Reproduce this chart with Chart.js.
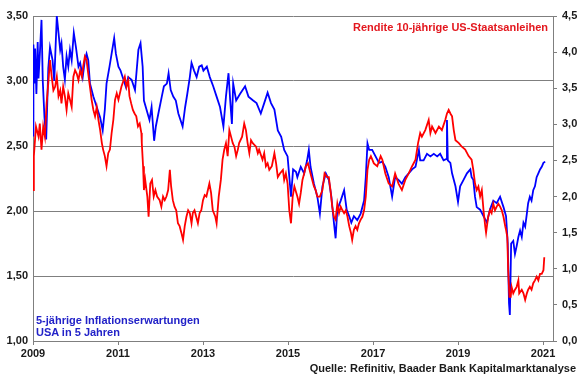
<!DOCTYPE html>
<html>
<head>
<meta charset="utf-8">
<script src="https://cdn.jsdelivr.net/npm/chart.js@4/dist/chart.umd.min.js"></script>
<style>
  body { margin: 0; background: #fff; }
  #wrap { position: relative; width: 580px; height: 375px; font-family: "Liberation Sans", Arial, sans-serif; font-weight: bold; }
  #chart { position: absolute; left: 0; top: 0; }
  .note { position: absolute; font-size: 11px; line-height: 12px; white-space: nowrap; }
  #redNote { right: 32px; top: 21px; color: #e3171e; }
  #blueNote { left: 36px; top: 314px; color: #2222c8; }
  #source { right: 4px; top: 362px; color: #1a1a1a; }
</style>
</head>
<body>
<div id="wrap">
  <canvas id="chart" width="580" height="375"></canvas>
  <div class="note" id="redNote">Rendite 10-jährige US-Staatsanleihen</div>
  <div class="note" id="blueNote">5-jährige Inflationserwartungen<br>USA in 5 Jahren</div>
  <div class="note" id="source">Quelle: Refinitiv, Baader Bank Kapitalmarktanalyse</div>
</div>
<script>
// 5y5y inflation expectations (left axis, %)
const inflYears = [
  2009.00, 2009.01, 2009.03, 2009.05, 2009.08, 2009.11, 2009.13, 2009.16, 2009.20, 2009.23,
  2009.27, 2009.31, 2009.36, 2009.40, 2009.46, 2009.50, 2009.56, 2009.60, 2009.64, 2009.67,
  2009.71, 2009.75, 2009.79, 2009.83, 2009.87, 2009.91, 2009.96, 2010.01, 2010.07, 2010.11,
  2010.17, 2010.22, 2010.26, 2010.30, 2010.34, 2010.42, 2010.50, 2010.58, 2010.64, 2010.69,
  2010.73, 2010.80, 2010.85, 2010.91, 2010.95, 2011.01, 2011.06, 2011.13, 2011.19, 2011.24,
  2011.32, 2011.40, 2011.48, 2011.53, 2011.58, 2011.61, 2011.67, 2011.74, 2011.79, 2011.85,
  2011.89, 2011.95, 2012.03, 2012.08, 2012.15, 2012.19, 2012.24, 2012.30, 2012.36, 2012.42,
  2012.47, 2012.52, 2012.58, 2012.63, 2012.69, 2012.73, 2012.79, 2012.85, 2012.91, 2012.97,
  2013.01, 2013.09, 2013.16, 2013.24, 2013.32, 2013.40, 2013.48, 2013.54, 2013.60, 2013.64,
  2013.68, 2013.71, 2013.78, 2013.87, 2013.99, 2014.07, 2014.18, 2014.26, 2014.36, 2014.44,
  2014.52, 2014.60, 2014.68, 2014.76, 2014.84, 2014.91, 2014.99, 2015.07, 2015.12, 2015.19,
  2015.22, 2015.30, 2015.38, 2015.45, 2015.49, 2015.53, 2015.61, 2015.69, 2015.75, 2015.81,
  2015.89, 2015.96, 2016.02, 2016.08, 2016.12, 2016.16, 2016.24, 2016.32, 2016.38, 2016.44,
  2016.49, 2016.55, 2016.63, 2016.71, 2016.79, 2016.83, 2016.87, 2016.91, 2016.98, 2017.06,
  2017.14, 2017.22, 2017.29, 2017.37, 2017.45, 2017.52, 2017.60, 2017.68, 2017.76, 2017.84,
  2017.92, 2018.00, 2018.08, 2018.11, 2018.19, 2018.27, 2018.35, 2018.43, 2018.51, 2018.58,
  2018.66, 2018.73, 2018.74, 2018.76, 2018.82, 2018.86, 2018.94, 2019.00, 2019.05, 2019.13,
  2019.21, 2019.29, 2019.32, 2019.36, 2019.40, 2019.44, 2019.52, 2019.60, 2019.68, 2019.75,
  2019.83, 2019.91, 2019.99, 2020.07, 2020.13, 2020.17, 2020.20, 2020.22, 2020.25, 2020.30,
  2020.34, 2020.38, 2020.42, 2020.46, 2020.50, 2020.54, 2020.58, 2020.62, 2020.65, 2020.69,
  2020.73, 2020.77, 2020.81, 2020.85, 2020.89, 2020.93, 2020.97, 2021.01, 2021.05
];
const inflValues = [
  2.58, 3.28, 2.98, 3.25, 2.90, 3.30, 3.02, 3.20, 3.47, 3.00,
  2.72, 2.55, 3.10, 3.26, 3.16, 3.00, 3.50, 3.37, 3.24, 3.29,
  3.11, 3.01, 3.19, 3.11, 3.24, 3.16, 3.37, 3.26, 3.11, 3.14,
  3.03, 3.16, 3.21, 3.16, 2.98, 2.88, 2.80, 2.72, 2.62, 2.78,
  2.98, 3.11, 3.21, 3.33, 3.21, 3.11, 3.08, 3.01, 2.95, 3.03,
  3.01, 2.93, 3.24, 3.29, 3.11, 2.85, 2.78, 2.70, 2.80, 2.54,
  2.65, 2.75, 2.88, 2.96, 2.98, 3.06, 2.93, 2.88, 2.85, 2.75,
  2.70, 2.65, 2.80, 2.90, 3.03, 3.14, 3.08, 3.03, 3.11, 3.12,
  3.08, 3.11, 3.03, 2.96, 2.88, 2.80, 2.65, 2.88, 3.06, 2.85,
  2.67, 2.98, 2.85, 2.90, 2.96, 2.88, 2.85, 2.83, 2.75, 2.83,
  2.91, 2.83, 2.78, 2.62, 2.57, 2.47, 2.42, 2.11, 2.32, 2.30,
  2.26, 2.34, 2.29, 2.39, 2.47, 2.34, 2.21, 2.11, 1.98, 2.19,
  2.29, 2.24, 2.11, 1.91, 1.79, 2.01, 2.08, 2.16, 2.01, 1.96,
  1.91, 1.96, 1.93, 1.98, 2.08, 2.26, 2.52, 2.47, 2.47, 2.42,
  2.37, 2.38, 2.34, 2.26, 2.11, 2.26, 2.24, 2.21, 2.26, 2.29,
  2.32, 2.34, 2.47, 2.39, 2.39, 2.44, 2.42, 2.44, 2.42, 2.44,
  2.39, 2.40, 2.70, 2.39, 2.37, 2.29, 2.19, 2.07, 2.19, 2.24,
  2.29, 2.32, 2.26, 2.24, 2.11, 2.03, 2.01, 1.96, 1.91, 2.01,
  2.08, 2.06, 2.11, 2.03, 1.96, 1.75, 1.29, 1.20, 1.75, 1.77,
  1.67, 1.73, 1.80, 1.85, 1.80, 1.91, 1.88, 1.98, 2.06, 2.11,
  2.08, 2.16, 2.19, 2.26, 2.29, 2.32, 2.34, 2.37, 2.38
];

// 10y US Treasury yield (right axis, %)
const yieldYears = [
  2009.00, 2009.02, 2009.07, 2009.13, 2009.16, 2009.20, 2009.24, 2009.28, 2009.32, 2009.36,
  2009.40, 2009.44, 2009.48, 2009.52, 2009.56, 2009.60, 2009.64, 2009.67, 2009.71, 2009.75,
  2009.79, 2009.83, 2009.87, 2009.91, 2009.95, 2009.99, 2010.03, 2010.07, 2010.11, 2010.15,
  2010.18, 2010.22, 2010.26, 2010.30, 2010.34, 2010.38, 2010.42, 2010.46, 2010.50, 2010.54,
  2010.58, 2010.62, 2010.65, 2010.69, 2010.73, 2010.77, 2010.81, 2010.85, 2010.89, 2010.93,
  2010.97, 2011.01, 2011.08, 2011.16, 2011.20, 2011.24, 2011.27, 2011.31, 2011.35, 2011.39,
  2011.43, 2011.47, 2011.51, 2011.55, 2011.56, 2011.59, 2011.61, 2011.64, 2011.69, 2011.72,
  2011.76, 2011.80, 2011.84, 2011.88, 2011.92, 2011.98, 2012.02, 2012.06, 2012.10, 2012.14,
  2012.18, 2012.22, 2012.25, 2012.29, 2012.33, 2012.37, 2012.41, 2012.45, 2012.49, 2012.53,
  2012.57, 2012.61, 2012.65, 2012.69, 2012.73, 2012.76, 2012.80, 2012.84, 2012.88, 2012.92,
  2012.96, 2013.00, 2013.04, 2013.08, 2013.15, 2013.19, 2013.23, 2013.29, 2013.32, 2013.37,
  2013.42, 2013.46, 2013.50, 2013.54, 2013.58, 2013.62, 2013.66, 2013.70, 2013.74, 2013.78,
  2013.82, 2013.85, 2013.92, 2013.97, 2014.01, 2014.05, 2014.09, 2014.13, 2014.17, 2014.25,
  2014.29, 2014.32, 2014.40, 2014.44, 2014.48, 2014.52, 2014.56, 2014.62, 2014.68, 2014.72,
  2014.76, 2014.81, 2014.88, 2014.91, 2014.95, 2014.99, 2015.03, 2015.07, 2015.11, 2015.15,
  2015.22, 2015.26, 2015.30, 2015.34, 2015.38, 2015.42, 2015.47, 2015.53, 2015.57, 2015.61,
  2015.65, 2015.69, 2015.75, 2015.81, 2015.86, 2015.92, 2015.96, 2016.00, 2016.04, 2016.08,
  2016.12, 2016.16, 2016.20, 2016.24, 2016.28, 2016.32, 2016.36, 2016.40, 2016.44, 2016.48,
  2016.51, 2016.55, 2016.59, 2016.63, 2016.67, 2016.71, 2016.75, 2016.79, 2016.83, 2016.87,
  2016.91, 2016.95, 2017.02, 2017.10, 2017.18, 2017.22, 2017.29, 2017.37, 2017.45, 2017.52,
  2017.60, 2017.68, 2017.76, 2017.84, 2017.92, 2018.00, 2018.06, 2018.11, 2018.15, 2018.23,
  2018.31, 2018.35, 2018.39, 2018.47, 2018.55, 2018.62, 2018.70, 2018.74, 2018.78, 2018.82,
  2018.86, 2018.90, 2018.94, 2019.02, 2019.09, 2019.17, 2019.25, 2019.32, 2019.36, 2019.40,
  2019.44, 2019.48, 2019.52, 2019.56, 2019.60, 2019.64, 2019.66, 2019.71, 2019.75, 2019.79,
  2019.83, 2019.87, 2019.91, 2019.95, 2019.99, 2020.03, 2020.07, 2020.11, 2020.13, 2020.16,
  2020.18, 2020.21, 2020.24, 2020.26, 2020.30, 2020.34, 2020.38, 2020.42, 2020.44, 2020.50,
  2020.54, 2020.58, 2020.62, 2020.65, 2020.69, 2020.73, 2020.77, 2020.81, 2020.85, 2020.89,
  2020.93, 2020.97, 2021.01, 2021.03
];
const yieldValues = [
  2.09, 2.56, 2.97, 2.83, 3.01, 2.65, 2.97, 2.83, 3.29, 3.57,
  3.89, 3.66, 3.47, 3.52, 3.66, 3.39, 3.47, 3.29, 3.52, 3.39,
  3.20, 3.43, 3.34, 3.24, 3.66, 3.75, 3.70, 3.61, 3.75, 3.66,
  3.80, 3.94, 3.89, 3.70, 3.52, 3.34, 3.20, 3.11, 3.24, 3.06,
  2.92, 2.74, 2.65, 2.56, 2.42, 2.60, 2.65, 2.88, 3.06, 3.34,
  3.43, 3.34, 3.52, 3.66, 3.52, 3.61, 3.39, 3.29, 3.20, 3.15,
  3.11, 2.97, 3.01, 2.88, 2.74, 2.42, 2.09, 2.23, 2.00, 1.72,
  2.18, 2.23, 2.00, 2.09, 2.00, 1.95, 1.86, 2.00, 1.95, 2.00,
  2.09, 2.37, 2.14, 1.95, 1.86, 1.81, 1.63, 1.59, 1.50, 1.40,
  1.59, 1.72, 1.81, 1.77, 1.63, 1.77, 1.81, 1.72, 1.63, 1.77,
  1.81, 1.95, 2.02, 2.00, 2.18, 2.05, 1.81, 1.72, 1.63, 2.00,
  2.23, 2.51, 2.65, 2.74, 2.56, 2.92, 2.83, 2.74, 2.69, 2.56,
  2.65, 2.74, 2.83, 3.01, 2.92, 2.74, 2.60, 2.78, 2.74, 2.69,
  2.60, 2.65, 2.51, 2.60, 2.42, 2.46, 2.37, 2.42, 2.60, 2.46,
  2.27, 2.32, 2.37, 2.23, 2.32, 2.18, 1.81, 1.63, 2.00, 2.14,
  2.00, 1.90, 2.05, 2.23, 2.32, 2.42, 2.46, 2.32, 2.23, 2.14,
  2.09, 2.00, 2.00, 2.09, 2.32, 2.27, 2.27, 2.09, 1.86, 1.72,
  1.68, 1.90, 1.77, 1.86, 1.81, 1.77, 1.81, 1.72, 1.59, 1.50,
  1.40, 1.54, 1.59, 1.54, 1.63, 1.68, 1.72, 1.81, 2.00, 2.37,
  2.51, 2.56, 2.46, 2.42, 2.56, 2.51, 2.32, 2.18, 2.14, 2.32,
  2.18, 2.09, 2.23, 2.32, 2.42, 2.51, 2.74, 2.88, 2.83, 2.92,
  3.06, 2.88, 2.97, 2.88, 2.97, 2.92, 3.06, 3.15, 3.20, 3.15,
  3.11, 2.92, 2.78, 2.74, 2.69, 2.65, 2.56, 2.51, 2.37, 2.18,
  2.09, 2.14, 2.00, 2.09, 1.81, 1.59, 1.50, 1.72, 1.81, 1.77,
  1.90, 1.81, 1.86, 1.90, 1.86, 1.81, 1.72, 1.59, 1.54, 1.44,
  0.98, 0.61, 0.61, 0.75, 0.66, 0.71, 0.75, 0.84, 0.66, 0.71,
  0.66, 0.57, 0.66, 0.71, 0.75, 0.71, 0.80, 0.84, 0.89, 0.84,
  0.93, 0.93, 0.98, 1.16
];

const yearTicks = [2009, 2011, 2013, 2015, 2017, 2019, 2021];

const axisFont = { family: '"Liberation Sans", Arial, sans-serif', size: 11, weight: 'bold' };
const gridColor = '#7f7f7f';
const textColor = '#1a1a1a';

const toPoints = (xs, ys) => xs.map((x, i) => ({ x: x, y: ys[i] }));

new Chart(document.getElementById('chart'), {
  type: 'line',
  data: {
    datasets: [
      {
        label: 'Rendite 10-jährige US-Staatsanleihen',
        data: toPoints(yieldYears, yieldValues),
        yAxisID: 'y1',
        borderColor: '#ff0000',
        borderWidth: 1.8,
        pointRadius: 0,
        tension: 0
      },
      {
        label: '5-jährige Inflationserwartungen USA in 5 Jahren',
        data: toPoints(inflYears, inflValues),
        yAxisID: 'y',
        borderColor: '#0000ff',
        borderWidth: 1.8,
        pointRadius: 0,
        tension: 0
      }
    ]
  },
  options: {
    responsive: false,
    animation: false,
    layout: { padding: { top: 16, bottom: 0, left: 0, right: 0 } },
    plugins: { legend: { display: false }, tooltip: { enabled: false } },
    scales: {
      x: {
        type: 'linear',
        min: 2009,
        max: 2021.235,
        afterFit: s => { s.height = 34; },
        afterBuildTicks: s => { s.ticks = yearTicks.map(v => ({ value: v })); },
        ticks: {
          font: axisFont, color: textColor, padding: 2, maxRotation: 0,
          callback: v => String(v)
        },
        grid: { drawOnChartArea: false, color: gridColor, tickLength: 4 },
        border: { color: gridColor }
      },
      y: {
        position: 'left',
        min: 1, max: 3.5,
        afterFit: s => { s.width = 33; },
        ticks: {
          stepSize: 0.5, font: axisFont, color: textColor, padding: 5,
          callback: v => v.toFixed(2).replace('.', ',')
        },
        grid: { color: gridColor, drawTicks: false },
        border: { color: gridColor }
      },
      y1: {
        position: 'right',
        min: 0, max: 4.5,
        afterFit: s => { s.width = 27; },
        ticks: {
          stepSize: 0.5, font: axisFont, color: textColor, padding: 5,
          callback: v => v.toFixed(1).replace('.', ',')
        },
        grid: { drawOnChartArea: false, color: gridColor, tickLength: 4 },
        border: { color: gridColor }
      }
    }
  }
});
</script>
</body>
</html>
